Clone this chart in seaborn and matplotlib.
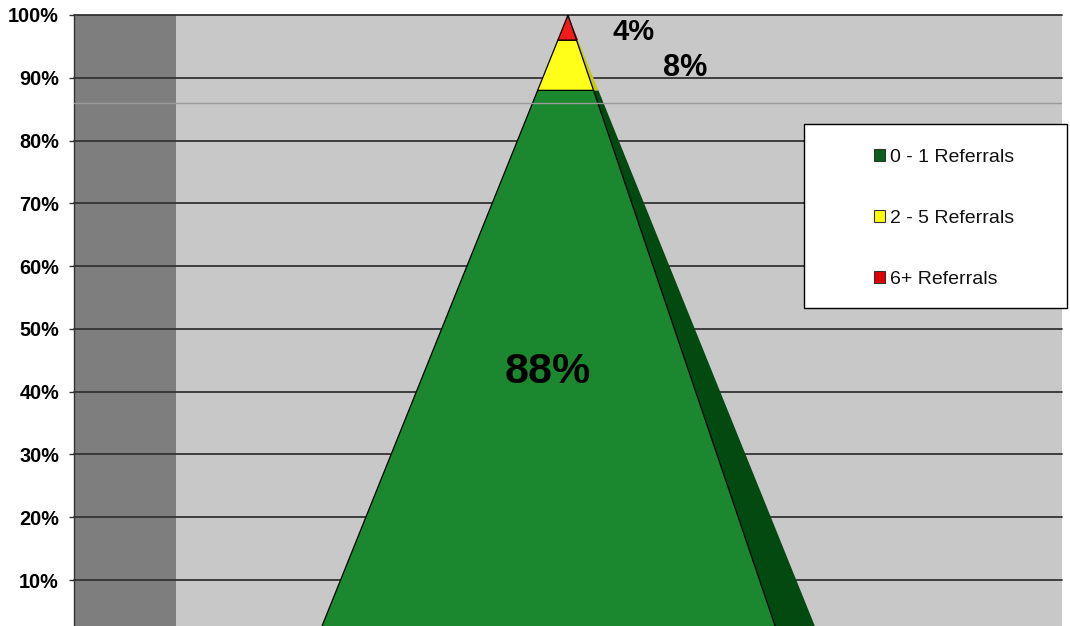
import numpy as np
import pandas as pd
import matplotlib
matplotlib.use("Agg")
import matplotlib.pyplot as plt
import seaborn as sns
from matplotlib.patches import Patch, Rectangle

# ---- data ----
categories = ["0 - 1 Referrals", "2 - 5 Referrals", "6+ Referrals"]
shares = [0.88, 0.08, 0.04]
share_labels = ["88%", "8%", "4%"]
ytick_values = [0.1, 0.2, 0.3, 0.4, 0.5, 0.6, 0.7, 0.8, 0.9, 1.0]
ytick_labels = ["10%", "20%", "30%", "40%", "50%", "60%", "70%", "80%", "90%", "100%"]

# ---- style ----
front_colors = ["#1B872E", "#FFFF1A", "#F21B1B"]
side_colors = ["#024A10", "#C8C81A", "#A01212"]
legend_colors = ["#0B5E1C", "#FFFF00", "#E00000"]
label_x = [0.48, 0.619, 0.566]
label_sizes = [31, 22, 21]
label_dy = [-4, -2, -3]

sns.set_theme(style="white")
plt.rcParams["font.family"] = ["Liberation Sans", "DejaVu Sans"]

df = pd.DataFrame({"category": categories, "share": shares, "label": share_labels})
df["top"] = df["share"].cumsum()
df["bottom"] = df["top"] - df["share"]

fig = plt.figure(figsize=(10.70, 6.26), dpi=100)
ax = fig.add_axes([74 / 1070, 0.0, 988 / 1070, 611 / 626])
ax.set_facecolor("#C8C8C8")
ax.set_xlim(0, 1)
ax.set_ylim(0.0268, 1.0)

# side wall
ax.axvspan(0, 0.1032, color="#7E7E7E", zorder=0.1, lw=0)

# pyramid geometry (apex at x=0.5, y=1)
cx = 0.5
k_left, k_front, k_outer = 0.2558, 0.2154, 0.2567

def xs(y, k):
    return cx + k * (1.0 - y)

for i, row in df.iterrows():
    lo, hi = row["bottom"], row["top"]
    # side face
    ax.fill([xs(lo, k_front), xs(lo, k_outer), xs(hi, k_outer), xs(hi, k_front)],
            [lo, lo, hi, hi], color=side_colors[i], lw=0, zorder=2)
    # front face
    ax.fill([cx - k_left * (1 - lo), xs(lo, k_front), xs(hi, k_front), cx - k_left * (1 - hi)],
            [lo, lo, hi, hi], facecolor=front_colors[i], edgecolor="black", lw=0.9, zorder=3)
    ax.annotate(row["label"], (label_x[i], (lo + hi) / 2), xytext=(0, label_dy[i]),
                textcoords="offset points", ha="center", va="center",
                fontsize=label_sizes[i], fontweight="bold", color="black", zorder=6)

# faint floor line
ax.axhline(0.860, color="#9A9A9A", lw=1.0, zorder=5)

# grid & ticks
ax.set_yticks(ytick_values)
ax.set_yticklabels(ytick_labels, fontweight="bold", fontsize=14.3, color="black")
ax.set_xticks([])
ax.yaxis.grid(True, color="#333333", lw=1.3, zorder=1)
ax.set_axisbelow(True)
for g in ax.get_ygridlines():
    g.set_zorder(1)
    g.set_clip_on(False)
ax.tick_params(axis="y", length=3.6, width=1, color="#333333", pad=7.2, left=True)
for s in ["top", "right", "bottom"]:
    ax.spines[s].set_visible(False)
ax.spines["left"].set_color("#333333")
ax.spines["left"].set_linewidth(1.0)

# legend box
fig.patches.append(Rectangle((804 / 1070, 1 - 308 / 626), (1067 - 804) / 1070, 184 / 626,
                             transform=fig.transFigure, facecolor="white", edgecolor="black",
                             lw=1.0, zorder=4))
handles = [Patch(facecolor=c, edgecolor="#333333", lw=0.8, label=l)
           for c, l in zip(legend_colors, categories)]
leg = fig.legend(handles=handles, loc="center left", bbox_to_anchor=(874 / 1070, 1 - 218.5 / 626),
                 frameon=False, fontsize=14, handlelength=0.55, handleheight=0.55,
                 handletextpad=0.25, labelspacing=2.27, borderpad=0, borderaxespad=0)
for t in leg.get_texts():
    t.set_color("#111111")
leg.set_zorder(6)

fig.savefig("out.png", dpi=100)
